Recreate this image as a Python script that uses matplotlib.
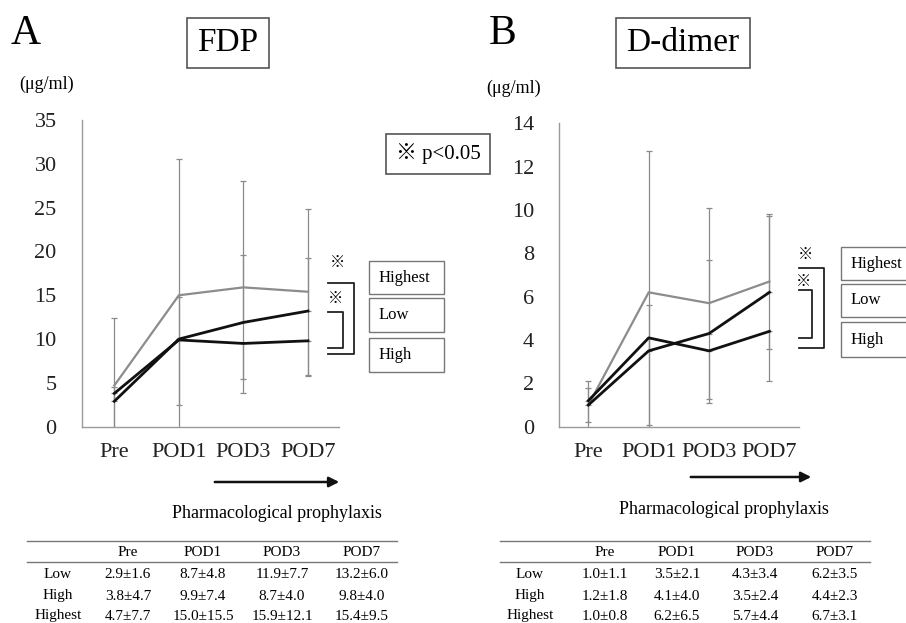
import numpy as np
import matplotlib.pyplot as plt
from matplotlib.lines import Line2D

plt.rcParams['font.family'] = ['Liberation Serif', 'Noto Sans CJK JP', 'DejaVu Sans']

days = ['Pre', 'POD1', 'POD3', 'POD7']
groups = ['Low', 'High', 'Highest']

# values as plotted in the line charts
fdp_low = [2.9, 10.0, 11.9, 13.2]
fdp_high = [3.8, 9.9, 9.5, 9.8]
fdp_highest = [4.7, 15.0, 15.9, 15.4]
fdp_low_sd = [1.6, 4.8, 7.7, 6.0]
fdp_high_sd = [4.7, 7.4, 4.0, 4.0]
fdp_highest_sd = [7.7, 15.5, 12.1, 9.5]

dd_low = [1.0, 3.5, 4.3, 6.2]
dd_high = [1.2, 4.1, 3.5, 4.4]
dd_highest = [1.0, 6.2, 5.7, 6.7]
dd_low_sd = [1.1, 2.1, 3.4, 3.5]
dd_high_sd = [1.8, 4.0, 2.4, 2.3]
dd_highest_sd = [0.8, 6.5, 4.4, 3.1]

# table text
fdp_table = [['2.9±1.6', '8.7±4.8', '11.9±7.7', '13.2±6.0'],
             ['3.8±4.7', '9.9±7.4', '8.7±4.0', '9.8±4.0'],
             ['4.7±7.7', '15.0±15.5', '15.9±12.1', '15.4±9.5']]
dd_table = [['1.0±1.1', '3.5±2.1', '4.3±3.4', '6.2±3.5'],
            ['1.2±1.8', '4.1±4.0', '3.5±2.4', '4.4±2.3'],
            ['1.0±0.8', '6.2±6.5', '5.7±4.4', '6.7±3.1']]

W, H = 906, 623
fig = plt.figure(figsize=(W / 100, H / 100), dpi=100)


def fx(x):
    return x / W


def fy(y):
    return 1 - y / H


def panel(rect, low, high, highest, low_sd, high_sd, highest_sd, ymax, step, xlim):
    ax = fig.add_axes(rect)
    x = np.arange(len(days))
    z = np.zeros(4)
    ek = dict(fmt='none', ecolor='#8a8a8a', elinewidth=0.9, capsize=2.5, capthick=0.9)
    ax.errorbar(x, highest, yerr=[highest_sd, highest_sd], **ek)
    ax.errorbar(x, low, yerr=[z, low_sd], **ek)
    ax.errorbar(x, high, yerr=[high_sd, z], **ek)
    ax.plot(x, highest, color='#8c8c8c', lw=1.6)
    ax.plot(x, low, color='#111111', lw=2.0)
    ax.plot(x, high, color='#111111', lw=2.0)
    ax.set_xlim(*xlim)
    ax.set_ylim(0, ymax)
    ax.set_yticks(np.arange(0, ymax + 0.1, step))
    ax.set_xticks(x)
    ax.set_xticklabels(days)
    for s in ['top', 'right']:
        ax.spines[s].set_visible(False)
    for s in ['left', 'bottom']:
        ax.spines[s].set_color('#9a9a9a')
        ax.spines[s].set_linewidth(1.0)
    ax.tick_params(length=0, labelsize=16, pad=18, colors='#222222')
    ax.tick_params(axis='x', pad=12)
    return ax


panel([fx(81.7), fy(426.7), fx(339 - 81.7), (426.7 - 120) / H],
      fdp_low, fdp_high, fdp_highest, fdp_low_sd, fdp_high_sd, fdp_highest_sd,
      35, 5, (-0.505, 3.48))
panel([fx(559), fy(426.7), fx(799 - 559), (426.7 - 123.3) / H],
      dd_low, dd_high, dd_highest, dd_low_sd, dd_high_sd, dd_highest_sd,
      14, 2, (-0.486, 3.49))

box = dict(boxstyle='square,pad=0.3', fc='white', ec='#555555', lw=1.2)
fig.text(fx(26), fy(34), 'A', fontsize=30, ha='center', va='center')
fig.text(fx(503), fy(34), 'B', fontsize=30, ha='center', va='center')
fig.text(fx(228), fy(43), 'FDP', fontsize=24, ha='center', va='center', bbox=box)
fig.text(fx(683), fy(43), 'D-dimer', fontsize=24, ha='center', va='center', bbox=box)
fig.text(fx(47), fy(84), '(μg/ml)', fontsize=13, ha='center', va='center')
fig.text(fx(514), fy(88), '(μg/ml)', fontsize=13, ha='center', va='center')
fig.text(fx(438), fy(154), '※ p<0.05', fontsize=15, ha='center', va='center',
         bbox=dict(boxstyle='square,pad=0.45', fc='white', ec='#555555', lw=1.2))


def bracket(x0, x1, y0, y1):
    fig.add_artist(Line2D([fx(x0), fx(x1), fx(x1), fx(x0)],
                          [fy(y0), fy(y0), fy(y1), fy(y1)],
                          color='#222222', lw=1.3))


def legend_boxes(x0, x1, tops, bots, tx):
    for name, t, b in zip(['Highest', 'Low', 'High'], tops, bots):
        fig.add_artist(plt.Rectangle((fx(x0), fy(b)), fx(x1 - x0), (b - t) / H,
                                     fill=False, ec='#777777', lw=1.0))
        fig.text(fx(tx), fy((t + b) / 2), name, fontsize=12, ha='left', va='center')


# panel A annotations
fig.text(fx(337), fy(263), '※', fontsize=11, ha='center', va='center')
fig.text(fx(335), fy(299), '※', fontsize=11, ha='center', va='center')
bracket(328, 354, 283, 354)
bracket(328, 343, 312, 348)
legend_boxes(369, 444, [261, 298, 338], [294, 332, 372], 379)

# panel B annotations
fig.text(fx(806), fy(255), '※', fontsize=11, ha='center', va='center')
fig.text(fx(804), fy(282), '※', fontsize=11, ha='center', va='center')
bracket(799, 824, 268, 348)
bracket(799, 812, 290, 338)
legend_boxes(841, 915, [247, 284, 322], [280, 317, 357], 851)

# arrows
for x0, x1, y, tx, ty in [(212, 342, 482, 277, 513), (688, 814, 477, 724, 509)]:
    fig.add_artist(plt.matplotlib.patches.FancyArrowPatch(
        (fx(x0), fy(y)), (fx(x1), fy(y)), transform=fig.transFigure,
        arrowstyle='-|>,head_length=6,head_width=3', color='#111111', lw=1.8))
    fig.text(fx(tx), fy(ty), 'Pharmacological prophylaxis', fontsize=13,
             ha='center', va='center')


def table(x0, x1, cols, rows):
    for y in [541, 562]:
        fig.add_artist(Line2D([fx(x0), fx(x1)], [fy(y), fy(y)], color='#777777', lw=1.0))
    for c, d in zip(cols[1:], days):
        fig.text(fx(c), fy(553), d, fontsize=11, ha='center', va='center')
    for ry, g, vals in zip([575, 596, 616], groups, rows):
        fig.text(fx(cols[0]), fy(ry), g, fontsize=11, ha='center', va='center')
        for c, v in zip(cols[1:], vals):
            fig.text(fx(c), fy(ry), v, fontsize=11, ha='center', va='center')


table(27, 397, [58, 128, 203, 282, 362], fdp_table)
table(500, 870, [530, 605, 677, 755, 835], dd_table)

fig.savefig('out.png', dpi=100)
